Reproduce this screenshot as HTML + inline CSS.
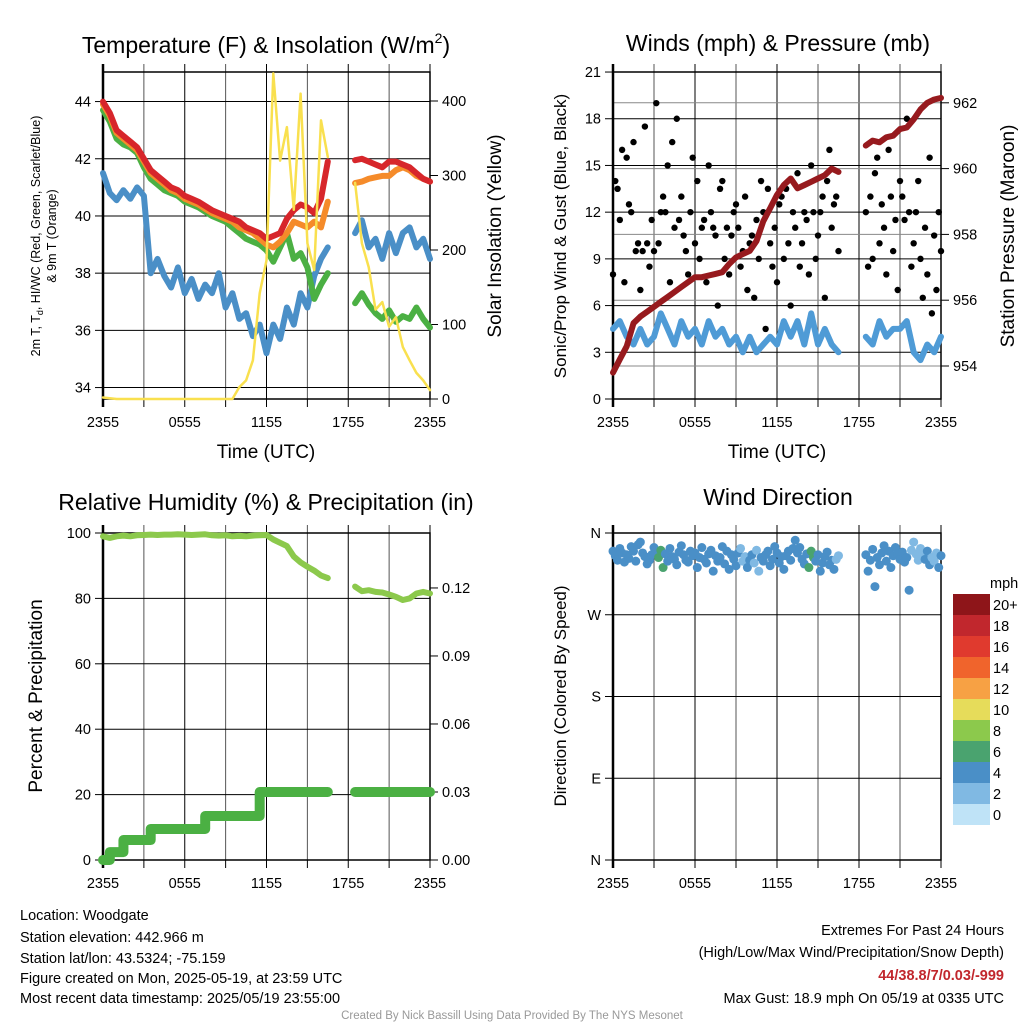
<!DOCTYPE html>
<html><head><meta charset="utf-8">
<style>
html,body{margin:0;padding:0;background:#fff;}
svg{display:block;font-family:"Liberation Sans",Arial,sans-serif;}
</style></head>
<body>
<svg id="chart" width="1024" height="1024" viewBox="0 0 1024 1024" xmlns="http://www.w3.org/2000/svg">
<rect width="1024" height="1024" fill="#fff"/>
<g id="g"></g>
<g font-size="23" text-anchor="middle" fill="#000">
<text x="266" y="53">Temperature (F) &amp; Insolation (W/m<tspan font-size="14" dy="-10">2</tspan><tspan dy="10">)</tspan></text>
<text x="778" y="51">Winds (mph) &amp; Pressure (mb)</text>
<text x="266" y="510">Relative Humidity (%) &amp; Precipitation (in)</text>
<text x="778" y="505">Wind Direction</text>
</g>
<g fill="#000" text-anchor="middle">
<text x="266" y="458" font-size="19">Time (UTC)</text>
<text x="777" y="458" font-size="19">Time (UTC)</text>
<text font-size="12.5" transform="translate(40,236) rotate(-90)">2m T, T<tspan font-size="9" dy="3">d</tspan><tspan dy="-3">, HI/WC (Red, Green, Scarlet/Blue)</tspan></text>
<text font-size="12.5" transform="translate(56,236) rotate(-90)">&amp; 9m T (Orange)</text>
<text font-size="19" transform="translate(501,236) rotate(-90)">Solar Insolation (Yellow)</text>
<text font-size="17" transform="translate(566,236) rotate(-90)">Sonic/Prop Wind &amp; Gust (Blue, Black)</text>
<text font-size="19" transform="translate(1014,236) rotate(-90)">Station Pressure (Maroon)</text>
<text font-size="19" transform="translate(42,696) rotate(-90)">Percent &amp; Precipitation</text>
<text font-size="17" transform="translate(566,696) rotate(-90)">Direction (Colored By Speed)</text>
</g>
<g font-size="14.5" fill="#000">
<text x="20" y="920">Location: Woodgate</text>
<text x="20" y="942">Station elevation: 442.966 m</text>
<text x="20" y="963">Station lat/lon: 43.5324; -75.159</text>
<text x="20" y="983">Figure created on Mon, 2025-05-19, at 23:59 UTC</text>
<text x="20" y="1003">Most recent data timestamp: 2025/05/19 23:55:00</text>
</g>
<g font-size="14.5" fill="#000" text-anchor="end">
<text x="1004" y="935">Extremes For Past 24 Hours</text>
<text x="1004" y="957">(High/Low/Max Wind/Precipitation/Snow Depth)</text>
<text x="1004" y="980" fill="#c1272d" font-weight="bold">44/38.8/7/0.03/-999</text>
<text x="1004" y="1003">Max Gust: 18.9 mph On 05/19 at 0335 UTC</text>
</g>
<text x="512" y="1019" font-size="11.5" fill="#999" text-anchor="middle">Created By Nick Bassill Using Data Provided By The NYS Mesonet</text>
</svg>
<script>
// half-hour grid, 0..24 h after 2355 UTC (49 points); null = missing
const hoursLabels = ["2355","0555","1155","1755","2355"];
const tempT = [44.0,43.6,43.0,42.8,42.6,42.4,42.0,41.6,41.4,41.2,41.0,40.9,40.7,40.6,40.5,40.35,40.2,40.1,40.0,39.9,39.8,39.6,39.5,39.4,39.2,39.3,39.4,39.9,40.2,40.4,40.3,40.1,40.6,41.9,null,null,null,41.95,42.0,41.9,41.8,41.7,41.9,41.9,41.8,41.7,41.5,41.3,41.2];
const tempOrange = [43.9,43.5,42.9,42.7,42.5,42.3,41.9,41.5,41.3,41.1,40.9,40.8,40.6,40.5,40.4,40.25,40.1,40.0,39.9,39.8,39.6,39.5,39.4,39.2,39.0,38.9,39.1,39.4,39.8,39.7,39.6,39.8,39.6,40.5,null,null,null,41.15,41.2,41.3,41.35,41.4,41.4,41.6,41.7,41.6,41.4,41.3,41.2];
const tempGreen = [43.7,43.3,42.7,42.5,42.4,42.2,41.7,41.3,41.1,40.9,40.8,40.7,40.5,40.4,40.3,40.15,40.0,39.9,39.8,39.6,39.4,39.2,39.1,39.0,38.8,38.4,38.9,39.4,38.5,38.7,38.2,37.1,37.6,38.0,null,null,null,36.95,37.3,36.9,36.6,36.4,36.7,36.3,36.5,36.4,36.8,36.4,36.1];
const tempDew = [41.5,40.8,40.55,40.9,40.6,41.0,40.7,38.0,38.5,37.9,37.5,38.2,37.3,37.8,37.1,37.6,37.3,38.0,36.8,37.3,36.4,36.6,35.8,36.2,35.2,36.2,35.7,36.8,36.2,37.3,36.8,37.9,38.5,38.9,null,null,null,39.4,39.85,38.9,39.2,38.5,39.4,38.7,39.4,39.6,38.9,39.2,38.5];
const solar = [2,1,0,0,0,0,0,0,0,0,0,0,0,0,0,0,0,0,0,0,16,25,52,142,186,437,320,365,254,410,209,173,374,325,null,null,null,290,209,177,120,130,97,110,70,52,35,25,12];
const windSust = [4.5,5,4,3.5,4.5,3.5,4,5.5,4.5,3.5,5,4,4.5,3.5,5,4,4.5,3.5,4,3,4,3,3.5,4,3.5,5,4,5,3.5,5.5,3.5,4.5,3.5,3,null,null,null,4,3.5,5,4,4.5,4.5,5,3,2.5,3.5,3,4];
const pressure = [953.8,954.2,954.6,955.3,955.5,955.65,955.8,955.95,956.1,956.25,956.4,956.55,956.7,956.7,956.75,956.8,956.85,957.1,957.3,957.4,957.5,957.8,958.4,958.8,959.2,959.5,959.7,959.4,959.5,959.6,959.7,959.8,960.0,959.9,null,null,null,960.7,960.85,960.8,960.95,961.0,961.2,961.25,961.5,961.8,962.0,962.1,962.15];
const rh = [99,98.5,99,99.2,99,99.3,99.4,99.5,99.4,99.5,99.5,99.6,99.5,99.4,99.5,99.6,99.3,99.2,99.3,99,99.1,99,99.2,99.3,99.4,98,97,96,92.8,91,89.7,88.5,87,86.2,null,null,null,83.6,82.2,82.5,82,81.8,81.2,80.5,79.5,80,81.5,82,81.5];
const precip = [0,0.0035,0.0035,0.0088,0.0088,0.0088,0.0088,0.0137,0.0137,0.0137,0.0137,0.0137,0.0137,0.0137,0.0137,0.0194,0.0194,0.0194,0.0194,0.0194,0.0194,0.0194,0.0194,0.03,0.03,0.03,0.03,0.03,0.03,0.03,0.03,0.03,0.03,0.03,null,null,null,0.03,0.03,0.03,0.03,0.03,0.03,0.03,0.03,0.03,0.03,0.03,0.03];
// 10-minute grid (145 points)
const gusts = [8,14,13.5,11.5,16,7.5,15.5,12.5,12,16.5,9.5,10,7,9.5,17.5,10,8.5,11.5,9.5,19,10,12,13,12,15,7.5,16.5,11,18,11.5,13,10.5,9.5,8,12,15.5,10,14,9,11,11.5,7.5,15,12,11,10.5,6,13.5,14,9,11,8,10.5,12,12.5,11,8.5,9.5,13,7,10,10.5,6.5,11.5,9,14,12,4.5,13.5,10,8.5,11,7.5,12.5,13,9,13.5,10,6,12,11,14.5,8.5,10,12,11.5,8,15,12,9,10.5,12,13,6.5,14,16,11,12.5,13,9.5,null,null,null,null,null,null,null,null,null,null,null,12,8.5,13,9,14.5,15.5,10,12.5,11,8,16,13,9.5,11.5,7,14,13,11.5,18,12,8.5,10,12,14,9,6.5,11,8,15.5,5.5,10.5,7,12,9.5];
const windDir = [340,335,330,343,338,328,336,332,345,340,329,347,350,338,334,326,330,336,344,339,333,341,322,337,329,343,334,331,325,339,346,336,330,328,340,335,338,322,333,344,331,327,337,341,318,335,329,333,345,326,340,320,336,331,324,338,343,329,334,322,330,336,327,341,318,333,329,336,340,324,331,345,338,327,334,320,335,340,330,343,352,338,344,331,326,337,322,340,333,329,336,318,327,334,339,325,330,320,331,335,null,null,null,null,null,null,null,null,null,null,null,336,318,330,342,301,333,325,338,346,329,340,322,335,344,337,331,339,328,333,297,341,350,337,330,343,336,331,340,325,333,329,338,322,335];
const speedEdges = ["20+","18","16","14","12","10","8","6","4","2","0"];
const speedColors = ["#8e1519","#c1272d","#e03a2e","#f0642c","#f7a144","#e6dc5a","#8cc94c","#4aa36f","#4a8fc7","#80b9e3","#bfe3f7"];

const NS="http://www.w3.org/2000/svg";
const root=document.getElementById('g');
function mk(tag,attrs,parent){const e=document.createElementNS(NS,tag);for(const k in attrs)e.setAttribute(k,attrs[k]);(parent||root).appendChild(e);return e;}

function panel(P){
  const gp=mk('g',{});
  
  
  for(let h=0;h<=24;h+=3){const x=P.x(h);
    const l=mk('line',{x1:x,x2:x,y1:P.t-8,y2:P.b,stroke:(h%6==0)?'#000':'#555','stroke-width':1},gp);
    
    
    mk('line',{x1:x,x2:x,y1:P.b,y2:P.b+8,stroke:'#000','stroke-width':1},gp);
  }
  hoursLabels.forEach((s,i)=>{const t=mk('text',{x:P.x(i*6),y:P.b+28,'font-size':14.5,'text-anchor':'middle'},gp);t.textContent=s;
    
    });
  P.lt.forEach(v=>{const y=P.ly(v);
    const l=mk('line',{x1:P.l,x2:P.r,y1:y,y2:y,stroke:'#000','stroke-width':1},gp);
    
    
    mk('line',{x1:P.l-8,x2:P.l,y1:y,y2:y,stroke:'#000'},gp);
    const t=mk('text',{x:P.l-12,y:y+5,'font-size':14.5,'text-anchor':'end'},gp);t.textContent=P.lf(v);
    
    });
  if(P.rt){P.rt.forEach(v=>{const y=P.ry(v);
    if(P.rgrid) mk('line',{x1:P.l,x2:P.r,y1:y,y2:y,stroke:'#888','stroke-width':1},gp);
    mk('line',{x1:P.r,x2:P.r+8,y1:y,y2:y,stroke:'#000'},gp);
    const t=mk('text',{x:P.r+12,y:y+5,'font-size':14.5},gp);t.textContent=P.rf(v);
    
    });}
  mk('rect',{x:P.l,y:P.t,width:P.r-P.l,height:P.b-P.t,fill:'none',stroke:'#000','stroke-width':1.5},gp);
  mk('line',{x1:P.l,x2:P.l,y1:P.t-8,y2:P.b+8,stroke:'#000','stroke-width':2.5},gp);
  return gp;
}
function series(arr,xf,yf,color,w,name,stepH){
  let d='',pen=false;
  arr.forEach((v,i)=>{if(v===null){pen=false;return;}const x=xf(i*stepH),y=yf(v);d+=(pen?'L':'M')+x.toFixed(1)+' '+y.toFixed(1);pen=true;});
  const p=mk('path',{d:d,fill:'none',stroke:color,'stroke-width':w,'stroke-linejoin':'round','stroke-linecap':'round'});
  
  
  return p;
}
function stepSeries(arr,xf,yf,color,w,name,stepH){
  let d='',pen=false,prev=null;
  arr.forEach((v,i)=>{if(v===null){pen=false;return;}const x=xf(i*stepH),y=yf(v);
    if(!pen)d+='M'+x+' '+y;else d+='L'+x+' '+yf(prev)+'L'+x+' '+y;pen=true;prev=v;});
  const p=mk('path',{d:d,fill:'none',stroke:color,'stroke-width':w,'stroke-linejoin':'round','stroke-linecap':'round'});
  
  
}

// Panel 1
const x1=h=>103+h*(327/24);
const yT=v=>399-(v-33.6)*28.6;
const yS=v=>399-v*0.745;
panel({name:'temperature-panel',l:103,r:430,t:72,b:399,x:x1,lt:[34,36,38,40,42,44],ly:yT,lf:v=>v,rt:[0,100,200,300,400],ry:yS,rf:v=>v});
series(tempDew,x1,yT,'#4a8fc7',6,'dewpoint-line',0.5);
series(tempGreen,x1,yT,'#4bb043',6,'heat-index-line',0.5);
series(tempOrange,x1,yT,'#f58b2a',6,'9m-temp-line',0.5);
series(tempT,x1,yT,'#d7262b',6,'2m-temp-line',0.5);
series(solar,x1,yS,'#f9e04f',2.5,'solar-line',0.5);

// Panel 2
const x2=h=>613+h*(328/24);
const yW=v=>399-v*15.57;
const yP=v=>366-(v-954)*32.9;
panel({name:'wind-panel',l:613,r:941,t:72,b:399,x:x2,lt:[0,3,6,9,12,15,18,21],ly:yW,lf:v=>v,rt:[954,956,958,960,962],ry:yP,rf:v=>v,rgrid:true});
series(windSust,x2,yW,'#4f9bd6',6,'wind-speed-line',0.5);
gusts.forEach((v,i)=>{if(v===null)return;const c=mk('circle',{cx:x2(i/6),cy:yW(v),r:3.2,fill:'#000'});
  
  });
series(pressure,x2,yP,'#971a1e',6,'pressure-line',0.5);

// Panel 3
const yR=v=>860-v*3.27;
const yPr=v=>860-v*2267;
panel({name:'humidity-panel',l:103,r:430,t:533,b:860,x:x1,lt:[0,20,40,60,80,100],ly:yR,lf:v=>v,rt:[0,0.03,0.06,0.09,0.12],ry:yPr,rf:v=>v.toFixed(2)});
series(rh,x1,yR,'#8cc94c',6,'rh-line',0.5);
stepSeries(precip,x1,yPr,'#4bb043',10,'precip-line',0.5);

// Panel 4
const yD=v=>860-v*(327/360);
panel({name:'direction-panel',l:613,r:941,t:533,b:860,x:x2,lt:[0,90,180,270,360],ly:yD,lf:v=>['N','E','S','W','N'][v/90]});
function speedColor(s){const idx=Math.min(10,Math.max(0,Math.floor((s+0.5)/2)));return speedColors[10-idx];}
windDir.forEach((v,i)=>{if(v===null)return;
  const s=windSust[Math.round(i/3)];
  const c=speedColor(s===null?4:s);
  const e=mk('circle',{cx:x2(i/6),cy:yD(v),r:4.5,fill:c});
  
  });
const cb=mk('g',{});


const cbt=mk('text',{x:990,y:588,'font-size':14.5},cb);cbt.textContent='mph';
speedEdges.forEach((s,i)=>{
  const r=mk('rect',{x:953,y:594+i*21,width:37,height:21,fill:speedColors[i]},cb);
  
  
  const t=mk('text',{x:993,y:610+i*21,'font-size':14.5},cb);t.textContent=s;
  
  
});
</script>
</body></html>
